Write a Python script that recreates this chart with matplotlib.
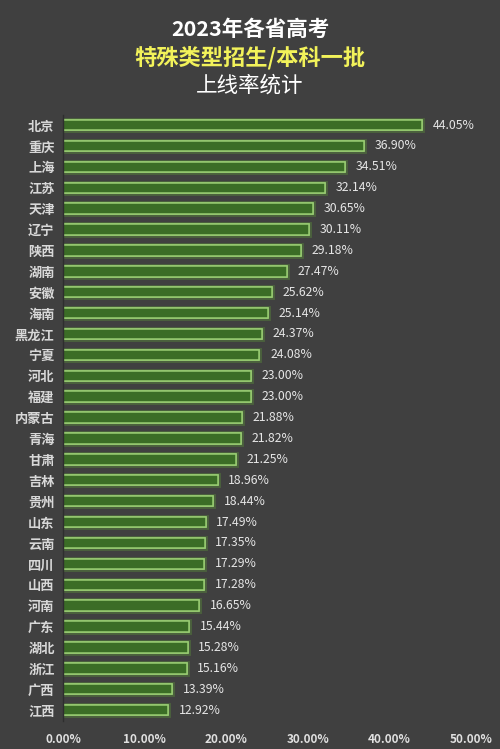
import numpy as np
import matplotlib.pyplot as plt
import matplotlib.patheffects as pe
from matplotlib import rcParams

rcParams['font.family'] = ['Noto Sans CJK SC', 'DejaVu Sans']

provinces = ['北京', '重庆', '上海', '江苏', '天津', '辽宁', '陕西', '湖南', '安徽', '海南',
             '黑龙江', '宁夏', '河北', '福建', '内蒙古', '青海', '甘肃', '吉林', '贵州', '山东',
             '云南', '四川', '山西', '河南', '广东', '湖北', '浙江', '广西', '江西']
rates = [44.05, 36.90, 34.51, 32.14, 30.65, 30.11, 29.18, 27.47, 25.62, 25.14,
         24.37, 24.08, 23.00, 23.00, 21.88, 21.82, 21.25, 18.96, 18.44, 17.49,
         17.35, 17.29, 17.28, 16.65, 15.44, 15.28, 15.16, 13.39, 12.92]
xticks = [0, 10, 20, 30, 40, 50]

bg = '#404040'
fig = plt.figure(figsize=(5.0, 7.49), dpi=100, facecolor=bg)
ax = fig.add_axes([0.126, 0.038, 0.816, 0.809])
ax.set_facecolor(bg)

y = np.arange(len(provinces))
bars = ax.barh(y, rates, height=0.5, color='#3b6d26', edgecolor='#98cc72', linewidth=1.1)
for b in bars:
    b.set_path_effects([pe.withStroke(linewidth=3.5, foreground='#5a8a3a', alpha=0.45), pe.Normal()])

for yi, v in zip(y, rates):
    ax.text(v + 1.3, yi, f'{v:.2f}%', va='center', ha='left', color='#e6e6e6',
            fontsize=8.8, fontweight='medium')

ax.set_ylim(len(provinces) - 0.5, -0.5)
ax.set_xlim(0, 50)
ax.set_yticks(y)
ax.set_yticklabels(provinces, color='#d8d8d8', fontsize=9.5, fontweight='bold')
ax.set_xticks(xticks)
ax.set_xticklabels([f'{t:.2f}%' for t in xticks], color='#e0e0e0', fontsize=8.5, fontweight='bold')
ax.tick_params(length=0, pad=6)
ax.tick_params(axis='x', pad=9)
for s in ['top', 'right', 'bottom']:
    ax.spines[s].set_visible(False)
ax.spines['left'].set_color('#2e2e2e')
ax.spines['left'].set_linewidth(1.0)

fig.text(0.5, 0.961, '2023年各省高考', ha='center', va='center', color='white',
         fontsize=15.5, fontweight='bold')
fig.text(0.5, 0.923, '特殊类型招生/本科一批', ha='center', va='center', color='#f2f25a',
         fontsize=16, fontweight='bold')
fig.text(0.5, 0.885, '上线率统计', ha='center', va='center', color='white',
         fontsize=15.5)

fig.savefig('out.png', dpi=100, facecolor=bg)
